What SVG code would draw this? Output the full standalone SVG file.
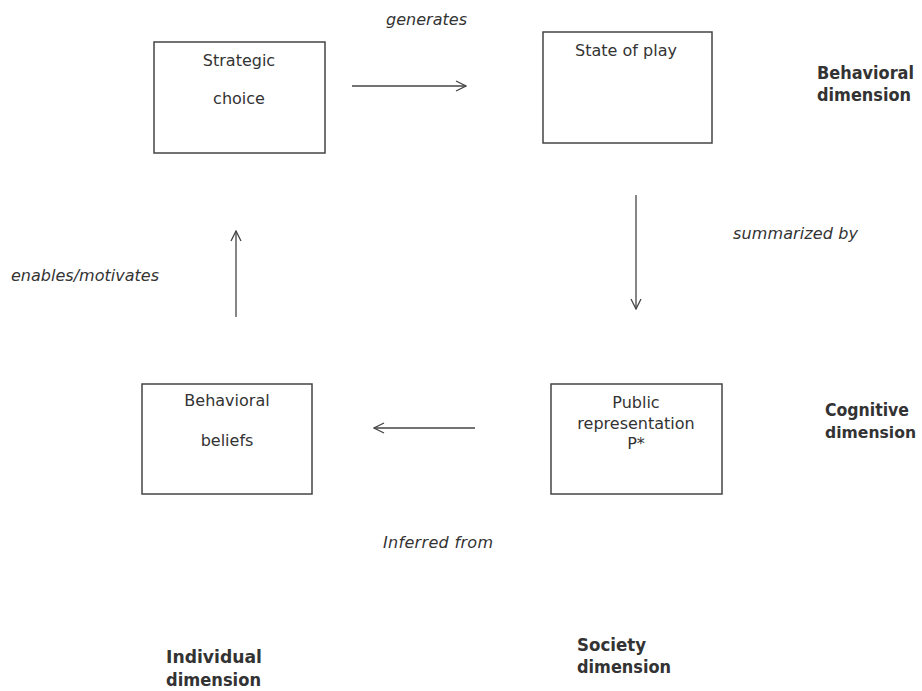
<svg xmlns="http://www.w3.org/2000/svg" width="922" height="691" viewBox="0 0 922 691">
<defs>
<style>
.box{fill:#fff;stroke:#444;stroke-width:1.5}
.t{font-family:"DejaVu Sans",sans-serif;font-size:16px;fill:#333;text-anchor:middle}
.i{font-family:"DejaVu Sans",sans-serif;font-size:16px;fill:#333;font-style:italic}
.b{font-family:"DejaVu Sans",sans-serif;font-size:17px;fill:#333;font-weight:bold}
.c{stroke:#444;stroke-width:1.3;fill:none;marker-end:url(#ah)}
</style>
<marker id="ah" viewBox="0 0 12 12" refX="11" refY="6" markerWidth="12" markerHeight="12" markerUnits="userSpaceOnUse" orient="auto">
<path d="M1,1 L11,6 L1,11" fill="none" stroke="#444" stroke-width="1.3"/>
</marker>
</defs>
<rect width="922" height="691" fill="#fff"/>
<g id="strategic-choice">
<rect class="box" x="154" y="42" width="171" height="111"/>
<text class="t" x="239" y="66">Strategic</text>
<text class="t" x="239" y="104">choice</text>
</g>
<g id="state-of-play">
<rect class="box" x="543" y="32" width="169" height="111"/>
<text class="t" x="626" y="56">State of play</text>
</g>
<g id="behavioral-beliefs">
<rect class="box" x="142" y="384" width="170" height="110"/>
<text class="t" x="227" y="406">Behavioral</text>
<text class="t" x="227" y="446">beliefs</text>
</g>
<g id="public-representation">
<rect class="box" x="551" y="384" width="171" height="110"/>
<text class="t" x="636" y="408">Public</text>
<text class="t" x="636" y="429">representation</text>
<text class="t" x="636" y="449">P*</text>
</g>
<g id="connectors">
<line class="c" x1="352" y1="86" x2="466" y2="86"/>
<line class="c" x1="636" y1="195" x2="636" y2="309"/>
<line class="c" x1="475" y1="428" x2="374" y2="428"/>
<line class="c" x1="236" y1="317" x2="236" y2="231"/>
</g>
<g id="labels">
<text class="i" x="386" y="25" textLength="81">generates</text>
<text class="i" x="733" y="239" textLength="125">summarized by</text>
<text class="i" x="11" y="281" textLength="148">enables/motivates</text>
<text class="i" x="383" y="548" textLength="110">Inferred from</text>
</g>
<g id="dimensions">
<text class="b" x="817" y="79" textLength="97" lengthAdjust="spacingAndGlyphs">Behavioral</text>
<text class="b" x="817" y="101" textLength="94" lengthAdjust="spacingAndGlyphs">dimension</text>
<text class="b" x="825" y="416" textLength="84" lengthAdjust="spacingAndGlyphs">Cognitive</text>
<text class="b" x="825" y="438" style="font-size:16px" textLength="91" lengthAdjust="spacingAndGlyphs">dimension</text>
<text class="b" x="166" y="663" textLength="96" lengthAdjust="spacingAndGlyphs">Individual</text>
<text class="b" x="166" y="686" textLength="95" lengthAdjust="spacingAndGlyphs">dimension</text>
<text class="b" x="577" y="651" textLength="69" lengthAdjust="spacingAndGlyphs">Society</text>
<text class="b" x="577" y="673" textLength="94" lengthAdjust="spacingAndGlyphs">dimension</text>
</g>
</svg>
